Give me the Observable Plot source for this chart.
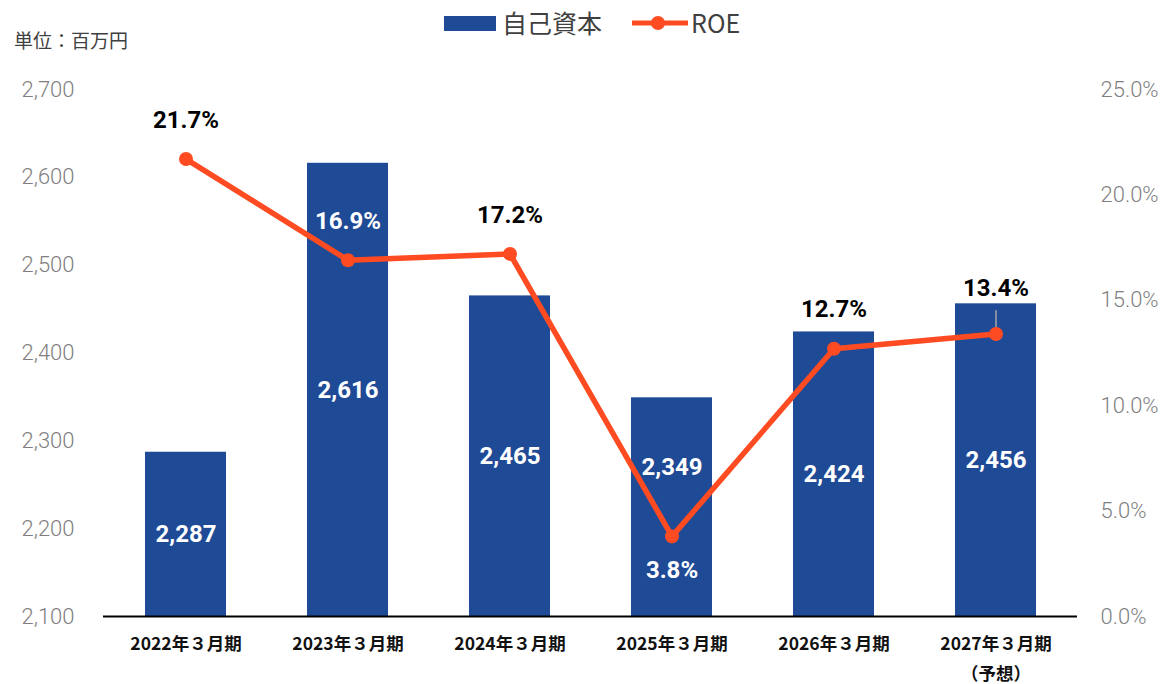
<!DOCTYPE html>
<html>
<head>
<meta charset="utf-8">
<script src="https://cdn.jsdelivr.net/npm/d3@7"></script>
<script src="https://cdn.jsdelivr.net/npm/@observablehq/plot@0.6"></script>
<style>
  html, body { margin: 0; padding: 0; background: #fff; }
  #wrap { position: relative; width: 1165px; height: 684px; font-family: "Noto Sans CJK JP", sans-serif; }
  #header { position: relative; width: 1165px; height: 50px; }
  .lg { position: absolute; color: #404040; font-size: 25px; line-height: 1; font-weight: 400; }
  #unit { position: absolute; left: 14px; top: 30px; font-size: 19px; color: #404040; line-height: 1; font-weight: 400; }
</style>
</head>
<body>
<div id="wrap">
  <div id="header">
    <svg width="1165" height="50" style="position:absolute;left:0;top:0">
      <rect x="444" y="16" width="52" height="15" fill="#1F4A96"></rect>
      <line x1="632" y1="23" x2="688" y2="23" stroke="#FF4B22" stroke-width="5"></line>
      <circle cx="658" cy="23" r="7" fill="#FF4B22"></circle>
    </svg>
    <div class="lg" style="left:502px;top:10px">自己資本</div>
    <div class="lg" style="left:691px;top:10px">ROE</div>
    <div id="unit">単位：百万円</div>
  </div>
  <div id="chart"></div>
</div>
<script>
const periods = ["2022年３月期", "2023年３月期", "2024年３月期", "2025年３月期", "2026年３月期", "2027年３月期\n（予想）"];
const equity = [2287, 2616, 2465, 2349, 2424, 2456];
const roe = [21.7, 16.9, 17.2, 3.8, 12.7, 13.4];
const leftTicks = [2100, 2200, 2300, 2400, 2500, 2600, 2700];
const rightTicks = [0, 5, 10, 15, 20, 25];
const roeBelow = ["2025年３月期"];
const leader = [{period: "2027年３月期\n（予想）", from: 13.4, to: 14.5}];

const yMin = 2100, yMax = 2700, rMax = 25;
const toY = p => yMin + p / rMax * (yMax - yMin);

const data = periods.map((p, i) => ({period: p, equity: equity[i], roe: roe[i]}));
const labelOffset = 45; // value units, roughly the label gap
const leaderPeriods = leader.map(d => d.period);
const isBelow = d => roeBelow.includes(d.period);
const hasLeader = d => leaderPeriods.includes(d.period);
const insideBar = d => toY(d.roe) + labelOffset < d.equity;
const above = data.filter(d => !isBelow(d) && !hasLeader(d));
const below = data.filter(isBelow);

const blue = "#1F4A96", red = "#FF4B22";
const numFont = "Roboto, 'Noto Sans CJK JP', sans-serif";
const pct = d => d.roe.toFixed(1) + "%";
const lbl = {fontSize: 24, fontWeight: "bold", fontFamily: numFont};

const chart = Plot.plot({
  width: 1165,
  height: 634,
  marginTop: 39,
  marginBottom: 68,
  marginLeft: 103,
  marginRight: 88,
  style: {fontFamily: "'Noto Sans CJK JP', sans-serif", background: "#fff"},
  x: {domain: periods, paddingInner: 0.5, paddingOuter: 0.25, axis: null},
  y: {domain: [yMin, yMax], axis: null},
  marks: [
    Plot.barY(data, {x: "period", y1: yMin, y2: "equity", fill: blue}),
    Plot.ruleY([yMin], {stroke: "#000", strokeWidth: 2}),
    Plot.axisY(leftTicks, {anchor: "left", label: null, tickSize: 0, tickPadding: 29, tickFormat: d3.format(","), fontSize: 22, fill: "#7F7F7F", fontFamily: numFont, fontWeight: 300}),
    Plot.axisY(rightTicks.map(toY), {anchor: "right", label: null, tickSize: 0, tickPadding: 23, tickFormat: d => ((d - yMin) / (yMax - yMin) * rMax).toFixed(1) + "%", fontSize: 22, fill: "#7F7F7F", fontFamily: numFont, fontWeight: 300}),
    Plot.axisX({label: null, tickSize: 0, tickPadding: 12, fontSize: 17.5, fontWeight: "bold", fill: "#111", lineHeight: 1.72}),
    Plot.text(data.filter(d => !isBelow(d)), {x: "period", y: d => (yMin + d.equity) / 2, text: d => d3.format(",")(d.equity), fill: "#fff", ...lbl}),
    Plot.text(data.filter(isBelow), {x: "period", y: d => (yMin + d.equity) / 2, dy: -40, text: d => d3.format(",")(d.equity), fill: "#fff", ...lbl}),
    Plot.ruleX(leader, {x: "period", y1: d => toY(d.from), y2: d => toY(d.to), stroke: "#A6A6A6", strokeWidth: 1.5}),
    Plot.line(data, {x: "period", y: d => toY(d.roe), stroke: red, strokeWidth: 5.5}),
    Plot.dot(data, {x: "period", y: d => toY(d.roe), r: 7, fill: red}),
    Plot.text(above.filter(d => !insideBar(d)), {x: "period", y: d => toY(d.roe), dy: -39, text: pct, fill: "#000", ...lbl}),
    Plot.text(above.filter(insideBar), {x: "period", y: d => toY(d.roe), dy: -39, text: pct, fill: "#fff", ...lbl}),
    Plot.text(below, {x: "period", y: d => toY(d.roe), dy: 34, text: pct, fill: "#fff", ...lbl}),
    Plot.text(leader, {x: "period", y: d => toY(d.to), dy: -23, text: d => d.from.toFixed(1) + "%", fill: "#000", ...lbl})
  ]
});
document.getElementById("chart").appendChild(chart);
</script>
</body>
</html>
